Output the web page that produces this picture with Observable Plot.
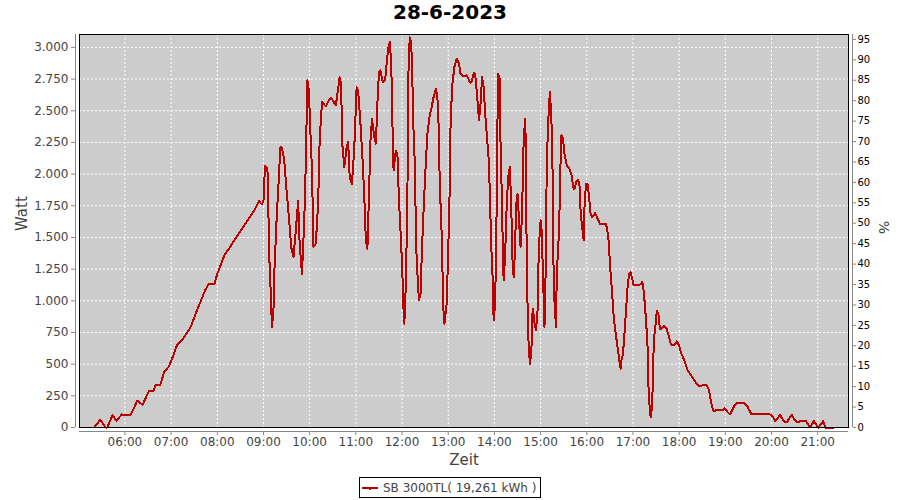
<!DOCTYPE html>
<html>
<head>
<meta charset="utf-8">
<script src="https://cdn.jsdelivr.net/npm/d3@7"></script>
<script src="https://cdn.jsdelivr.net/npm/@observablehq/plot@0.6"></script>
<style>
  html, body { margin: 0; padding: 0; background: #fff; }
  #wrap { width: 900px; height: 500px; position: relative; overflow: hidden; font-family: "DejaVu Sans", sans-serif; }
  #title { height: 28px; line-height: 28px; text-align: center; font: bold 20px "DejaVu Sans", sans-serif; color: #000; }
  #legend { margin: 9px auto 0; width: 180px; height: 19px; border: 1px solid #000; display: flex; align-items: center; font: 12px "DejaVu Sans", sans-serif; color: #444; box-sizing: content-box; }
  #legend svg { margin-left: 2px; margin-right: 5px; }
</style>
</head>
<body>
<div id="wrap">
  <div id="title"></div>
  <div id="chart"></div>
  <div id="legend"></div>
</div>
<script>
const chartTitle = "28-6-2023";
const seriesName = "SB 3000TL( 19,261 kWh )";
const xLabel = "Zeit";
const yLabel = "Watt";
const y2Label = "%";

const times = [
"05:20","05:28","05:35","05:37","05:44","05:49","05:56","06:07","06:12","06:16","06:23","06:31","06:37","06:40","06:46","06:51","06:57",
"07:02","07:08","07:14","07:20","07:26","07:32","07:38","07:44","07:49","07:56","08:00","08:05","08:09","08:15","08:22","08:28","08:35",
"08:41","08:48","08:54","08:58","09:00","09:02","09:05","09:06","09:07","09:09","09:11","09:13","09:14","09:17","09:20","09:22","09:24",
"09:27","09:30","09:33","09:36","09:39","09:42","09:45","09:47","09:50","09:53","09:55","09:57","09:59","10:01","10:03","10:05","10:08",
"10:11","10:13","10:16","10:21","10:25","10:28","10:34","10:37","10:39","10:41","10:42","10:45","10:48","10:50","10:52","10:55","10:58",
"11:01","11:03","11:06","11:09","11:11","11:13","11:15","11:17","11:19","11:21","11:24","11:26","11:28","11:30","11:32","11:35","11:38",
"11:40","11:42","11:44","11:46","11:48","11:49","11:52","11:54","11:56","11:58","12:00","12:02","12:03","12:05","12:07","12:08","12:10",
"12:12","12:14","12:15","12:17","12:18","12:20","12:22","12:24","12:26","12:28","12:31","12:33","12:36","12:38","12:41","12:44","12:46",
"12:48","12:49","12:51","12:52","12:54","12:55","12:58","13:00","13:02","13:03","13:05","13:08","13:11","13:14","13:16","13:20","13:24",
"13:27","13:29","13:31","13:33","13:35","13:38","13:40","13:42","13:44","13:46","13:48","13:51","13:53","13:54","13:56","13:58","13:59",
"14:01","14:03","14:04","14:05","14:07","14:08","14:10","14:11","14:12","14:14","14:16","14:18","14:20","14:22","14:23","14:25","14:27",
"14:28","14:30","14:32","14:34","14:36","14:38","14:40","14:41","14:42","14:44","14:46","14:48","14:49","14:50","14:52","14:54","14:56",
"14:57","14:58","15:00","15:01","15:03","15:05","15:06","15:07","15:08","15:10","15:12","15:14","15:16","15:17","15:20","15:21","15:24",
"15:26","15:27","15:29","15:31","15:34","15:37","15:39","15:41","15:42","15:44","15:47","15:49","15:51","15:52","15:54","15:56","15:57",
"15:59","16:01","16:03","16:05","16:07","16:11","16:14","16:17","16:22","16:25","16:28","16:31","16:33","16:35","16:37","16:40","16:42",
"16:44","16:45","16:47","16:49","16:51","16:53","16:55","16:57","16:59","17:01","17:06","17:10","17:12","17:13","17:15","17:17","17:19",
"17:20","17:21","17:23","17:24","17:26","17:27","17:29","17:31","17:33","17:35","17:37","17:40","17:44","17:45","17:47","17:49","17:52",
"17:55","17:57","18:00","18:02","18:05","18:09","18:11","18:14","18:17","18:20","18:23","18:26","18:30","18:36","18:39","18:41","18:43",
"18:45","18:50","18:57","18:59","19:03","19:06","19:09","19:12","19:15","19:24","19:28","19:31","19:34","19:41","19:58","20:00","20:05",
"20:11","20:17","20:20","20:26","20:30","20:33","20:38","20:44","20:47","20:50","20:55","21:00","21:01","21:07","21:10","21:21"
];
const watts = [
0,61,0,0,97,55,103,95,155,213,179,287,290,337,338,437,481,
555,655,687,740,800,900,989,1080,1134,1129,1213,1290,1358,1410,1476,1530,1595,
1650,1713,1787,1760,1790,2068,2050,1924,1424,1137,792,924,1208,1634,1976,2213,2208,
2108,1871,1660,1424,1345,1555,1787,1452,1213,1634,2082,2740,2660,2321,2029,1424,1452,
1766,2266,2568,2534,2582,2600,2542,2674,2766,2710,2266,2055,2213,2252,1976,1924,2213,
2687,2660,2398,2082,1818,1476,1411,1818,2266,2437,2292,2240,2555,2805,2818,2726,2740,
2871,2990,3042,2871,2266,2029,2187,2160,1792,1555,1292,924,819,1134,1818,2740,3081,
3029,2608,2319,2029,1476,1213,1003,1050,1424,1713,2108,2319,2463,2516,2608,2674,2600,
2319,1897,1634,1371,898,819,977,1397,1897,2371,2687,2845,2911,2871,2792,2771,2780,
2740,2718,2740,2797,2790,2582,2424,2560,2766,2687,2477,2240,2082,1845,1424,1134,845,
977,1766,2424,2792,2750,2213,1739,1371,1161,1371,1766,1976,2055,1739,1371,1187,1424,
1739,1845,1634,1424,1713,2266,2437,2160,1266,713,503,582,871,937,829,766,924,
1240,1450,1634,1600,1240,792,1003,1450,2082,2424,2647,2450,1897,1108,792,1213,1555,
2108,2305,2290,2160,2068,2050,2015,1976,1897,1880,1950,1950,1897,1700,1581,1476,1739,
1924,1924,1818,1687,1660,1692,1650,1608,1608,1608,1503,1213,1055,871,766,634,542,
463,529,582,740,924,1108,1213,1226,1174,1121,1126,1129,1147,1130,1003,845,634,
345,213,81,121,345,687,792,924,897,779,779,805,779,752,713,661,648,
661,679,648,595,555,490,450,424,397,371,345,326,332,332,292,213,160,
129,140,140,150,121,103,137,174,192,192,174,137,103,103,103,100,50,
100,42,42,100,61,42,50,55,29,0,50,8,0,50,0,0
];

const xDomain = ["05:01", "21:40"];
const xTicks = ["06:00","07:00","08:00","09:00","10:00","11:00","12:00","13:00","14:00","15:00","16:00","17:00","18:00","19:00","20:00","21:00"];
const yMax = 3102;
const yTicks = [0,250,500,750,1000,1250,1500,1750,2000,2250,2500,2750,3000];
const pctTicks = [0,5,10,15,20,25,30,35,40,45,50,55,60,65,70,75,80,85,90,95];
const pctMax = 96.2;

const parse = t => new Date(Date.UTC(2023, 5, 28, +t.slice(0, 2), +t.slice(3, 5)));
const data = times.map((t, i) => ({t: parse(t), w: watts[i]}));
const xTickDates = xTicks.map(parse);
const xd = xDomain.map(parse);
const wPerPct = yMax / pctMax;
const fmtDE = d3.formatLocale({decimal: ",", thousands: ".", grouping: [3], currency: ["", "€"]}).format(",d");

document.getElementById("title").textContent = chartTitle;

const chart = Plot.plot({
  width: 900,
  height: 440,
  marginTop: 6,
  marginBottom: 41,
  marginLeft: 79,
  marginRight: 52,
  x: {type: "utc", domain: xd},
  y: {domain: [0, yMax]},
  style: {fontFamily: "DejaVu Sans, sans-serif", fontSize: "12px", color: "#444", background: "white", overflow: "visible"},
  marks: [
    Plot.frame({fill: "#cccccc", stroke: null}),
    Plot.gridX(xTickDates, {stroke: "white", strokeOpacity: 1, strokeWidth: 1, strokeDasharray: "2,2"}),
    Plot.gridY(yTicks, {stroke: "white", strokeOpacity: 1, strokeWidth: 1, strokeDasharray: "2,2"}),
    Plot.line(data, {x: "t", y: "w", stroke: "#bb0000", strokeWidth: 2, curve: "linear", shapeRendering: "crispEdges"}),
    Plot.frame({stroke: "#000", strokeWidth: 1}),
    Plot.ruleY([0], {dy: 4, stroke: "#888"}),
    Plot.ruleX([xd[0]], {dx: -4, stroke: "#888"}),
    Plot.ruleX([xd[1]], {dx: 4, stroke: "#888"}),
    Plot.axisX(xTickDates, {anchor: "bottom", dy: 4, tickSize: 4, tickPadding: 2, tickFormat: d3.utcFormat("%H:%M"), label: null, stroke: "#888", fill: "#444", fontSize: 12}),
    Plot.axisY(yTicks, {anchor: "left", dx: -4, tickSize: 4, tickPadding: 3, tickFormat: fmtDE, label: null, stroke: "#888", fill: "#444", fontSize: 12}),
    Plot.axisY(pctTicks.map(p => p * wPerPct), {anchor: "right", dx: 4, tickSize: 3, tickPadding: 2, tickFormat: d => String(Math.round(d / wPerPct)), label: null, stroke: "#888", fill: "#000", fontSize: 10}),
    Plot.text([xLabel], {frameAnchor: "bottom", dy: 33, fontSize: 15, fill: "#444", lineAnchor: "middle"}),
    Plot.text([yLabel], {frameAnchor: "left", dx: -57, rotate: -90, fontSize: 15, fill: "#444"}),
    Plot.text([y2Label], {frameAnchor: "right", dx: 35, dy: 3, rotate: 90, fontSize: 14, fill: "#444"})
  ]
});
document.getElementById("chart").appendChild(chart);

const legend = document.getElementById("legend");
legend.innerHTML = `<svg width="16" height="10"><line x1="0" y1="5" x2="16" y2="5" stroke="#bb0000" stroke-width="2"/><line x1="8" y1="5" x2="8" y2="7" stroke="#bb0000" stroke-width="2"/></svg><span></span>`;
legend.querySelector("span").textContent = seriesName;
</script>
</body>
</html>
